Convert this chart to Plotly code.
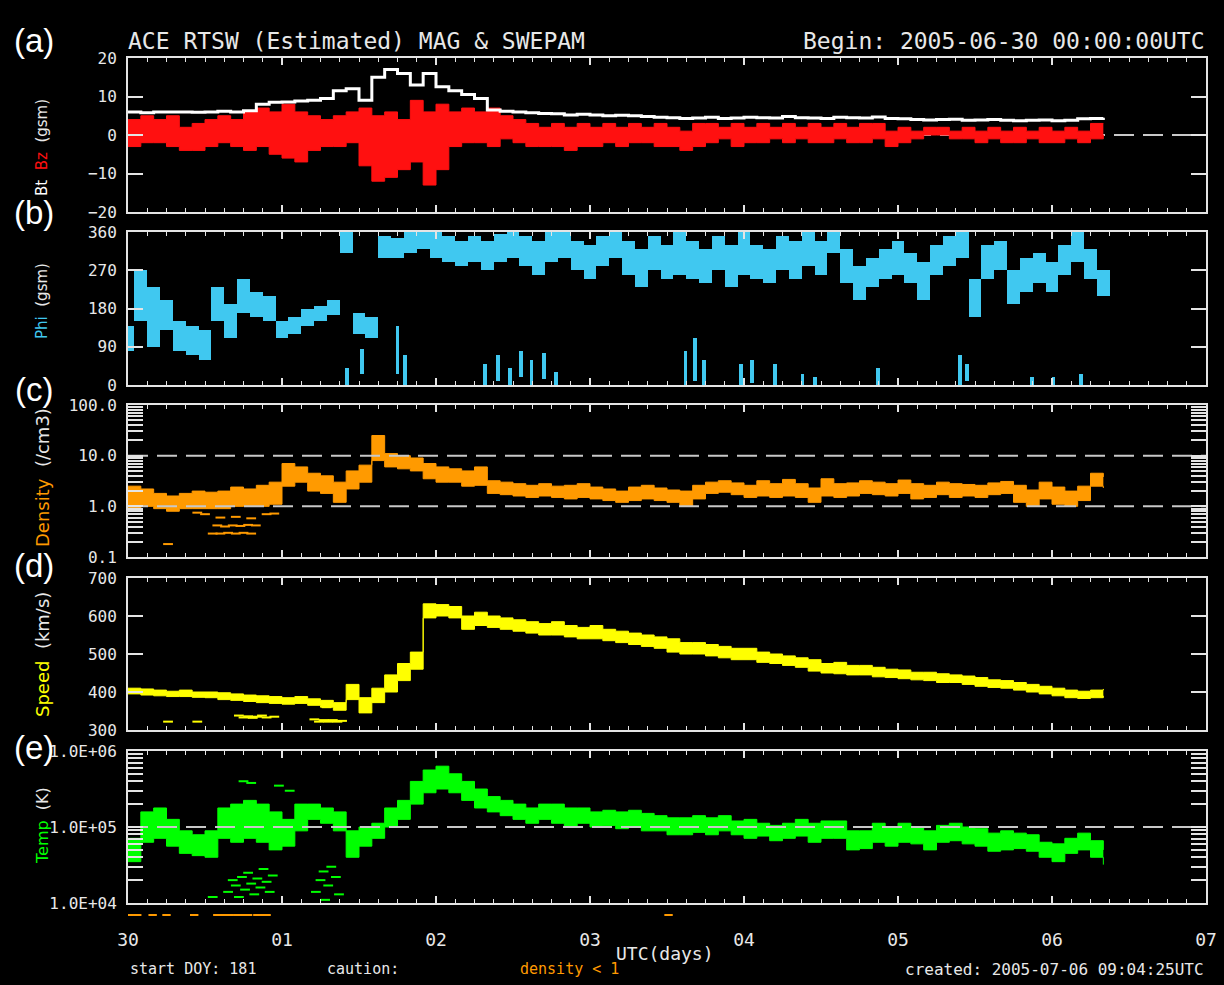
import plotly.graph_objects as go

# ---------------- data (2-hour samples) ----------------
HOURS = [0, 2, 4, 6, 8, 10, 12, 14, 16, 18, 20, 22, 24, 26, 28, 30, 32, 34, 36, 38,
         40, 42, 44, 46, 48, 50, 52, 54, 56, 58, 60, 62, 64, 66, 68, 70, 72, 74, 76, 78,
         80, 82, 84, 86, 88, 90, 92, 94, 96, 98, 100, 102, 104, 106, 108, 110, 112, 114,
         116, 118, 120, 122, 124, 126, 128, 130, 132, 134, 136, 138, 140, 142, 144, 146,
         148, 150, 152]

BT = [6, 5.8, 6, 6, 6, 5.9, 6, 6.2, 6, 6.3, 8, 8.5, 8.6, 8.8, 9, 9.5, 11.5, 12, 9, 15,
      17, 16, 13, 16, 12.5, 11.5, 10.5, 9.5, 6.5, 6.2, 6, 5.8, 5.6, 5.5, 5.2, 5.4, 5.2, 5.0,
      5.1, 5.0, 4.8, 4.6, 4.5, 4.3, 4.4, 4.6, 4.3, 4.4, 4.6, 4.5, 4.4, 4.8, 4.5, 4.4, 4.3,
      4.6, 4.5, 4.4, 4.7, 4.3, 4.2, 4.0, 3.9, 4.0, 4.1, 3.8, 3.9, 4.0, 3.8, 3.7, 3.8, 3.9,
      3.7, 3.8, 4.2, 4.3, 4.5]
BZ_HI = [4, 5, 4, 5, 2, 3, 4, 5, 4, 6, 7, 6, 8, 6, 5, 4, 5, 6, 7, 5, 6, 4, 9, 6, 8, 6, 7,
         6, 7, 5, 4, 3, 2, 3, 2, 3, 2, 3, 2, 3, 2, 3, 2, 1, 3, 3, 2, 3, 2, 3, 2, 3, 2, 3, 2,
         3, 2, 3, 3, 1, 2, 1, 2, 2, 1, 2, 1, 2, 1, 2, 1, 2, 1, 2, 1, 3, 3]
BZ_LO = [-3, -2, -2, -3, -4, -4, -3, -2, -3, -4, -3, -5, -6, -7, -4, -3, -3, -2, -8, -12,
         -11, -9, -7, -13, -9, -3, -2, -2, -3, -1, -2, -3, -3, -3, -4, -3, -3, -2, -3, -2,
         -2, -3, -3, -4, -3, -2, -1, -3, -2, -2, -1, -2, -1, -2, -2, -1, -2, -2, -1, -3, -2,
         -1, 0, 0, -1, -1, -2, -1, -2, -2, -1, -2, -2, -1, -2, -1, 0]

PHI_LO = [80, 150, 90, 130, 80, 70, 60, 150, 110, 170, 160, 150, 110, 120, 140, 150, 165,
          310, 120, 110, 300, 300, 310, 320, 300, 290, 280, 290, 270, 290, 300, 280, 260,
          290, 300, 270, 250, 280, 300, 260, 230, 270, 250, 260, 250, 240, 270, 230, 260,
          250, 240, 270, 250, 280, 260, 310, 240, 200, 230, 250, 260, 240, 200, 260, 280,
          300, 160, 250, 270, 190, 220, 240, 220, 260, 290, 250, 210]
PHI_HI = [140, 270, 230, 200, 150, 140, 130, 230, 190, 250, 220, 210, 150, 160, 180, 185,
          200, 360, 170, 160, 350, 345, 360, 360, 360, 350, 340, 350, 340, 355, 360, 350,
          340, 360, 360, 340, 330, 350, 360, 340, 320, 350, 330, 360, 340, 320, 350, 330,
          360, 330, 320, 350, 340, 360, 340, 360, 320, 280, 300, 320, 340, 310, 290, 330,
          350, 360, 250, 330, 340, 270, 300, 310, 290, 330, 360, 320, 270]
# wrapped (near 0 deg) strokes: day, low, high
PHI2_DAY = [1.42, 1.52, 1.75, 1.80, 2.32, 2.40, 2.48, 2.55, 2.62, 2.70, 2.78, 3.62, 3.68,
            3.74, 3.98, 4.05, 4.20, 4.38, 4.46, 4.87, 5.40, 5.45, 5.87, 6.01, 6.19]
PHI2_LO = [0, 25, 25, 0, 0, 10, 0, 20, 0, 15, 0, 0, 10, 0, 0, 5, 0, 0, 0, 0, 0, 10, 0, 0, 0]
PHI2_HI = [40, 85, 140, 70, 50, 70, 40, 80, 60, 75, 30, 80, 110, 60, 50, 60, 50, 25, 20, 40,
           70, 50, 20, 20, 25]

DENS_LO = [0.9, 1.0, 0.9, 0.8, 0.9, 0.9, 0.9, 0.9, 1.0, 1.0, 1.0, 1.1, 2.5, 3.0, 2.0, 1.8,
           1.2, 2.2, 3.0, 8.0, 6.0, 5.5, 5.0, 3.5, 3.0, 3.0, 2.5, 2.6, 1.8, 1.7, 1.6, 1.5,
           1.6, 1.5, 1.4, 1.5, 1.4, 1.3, 1.2, 1.3, 1.4, 1.3, 1.2, 1.0, 1.4, 1.8, 1.9, 1.7,
           1.5, 1.6, 1.5, 1.6, 1.5, 1.2, 1.6, 1.5, 1.6, 1.8, 1.7, 1.6, 1.8, 1.4, 1.5, 1.7,
           1.5, 1.6, 1.5, 1.7, 1.8, 1.2, 1.0, 1.4, 1.1, 1.0, 1.3, 2.5, 2.3]
DENS_HI = [2.5, 2.2, 1.8, 1.6, 1.8, 2.0, 1.9, 2.0, 2.4, 2.2, 2.6, 3.0, 7.0, 6.0, 4.5, 4.0,
           3.0, 5.0, 6.5, 25, 11, 10, 9.0, 7.0, 6.0, 5.5, 5.0, 6.0, 3.2, 3.0, 2.8, 2.6, 2.8,
           2.5, 2.6, 2.8, 2.4, 2.2, 2.0, 2.4, 2.6, 2.3, 2.1, 2.0, 2.6, 3.0, 3.2, 2.9, 2.6,
           3.2, 2.8, 3.4, 2.8, 2.3, 3.5, 2.8, 2.9, 3.2, 3.0, 2.8, 3.3, 2.8, 2.6, 3.0, 2.8,
           2.7, 2.6, 2.9, 3.1, 2.6, 2.1, 3.0, 2.4, 2.0, 2.5, 4.5, 3.8]
DENS_OUT_DAY = [0.26, 0.55, 0.60, 0.65, 0.70, 0.75, 0.80, 0.58, 0.63, 0.68, 0.73, 0.78,
                0.83, 0.60, 0.70, 0.80, 0.50, 0.45, 0.90, 0.95]
DENS_OUT_VAL = [0.18, 0.29, 0.29, 0.30, 0.29, 0.30, 0.29, 0.42, 0.40, 0.42, 0.41, 0.43,
                0.42, 0.60, 0.62, 0.58, 0.70, 0.75, 0.70, 0.72]

SPEED_LO = [395, 392, 390, 388, 388, 386, 385, 380, 378, 375, 372, 370, 368, 370, 365,
            360, 352, 380, 345, 372, 400, 430, 460, 595, 600, 595, 565, 575, 570, 565,
            560, 555, 550, 550, 545, 540, 540, 535, 530, 525, 520, 515, 505, 500, 500,
            495, 490, 485, 485, 478, 475, 470, 465, 455, 450, 448, 445, 445, 440, 438,
            435, 432, 430, 425, 425, 420, 415, 412, 410, 405, 400, 395, 390, 385, 383,
            385, 390]
SPEED_HI = [410, 408, 405, 402, 405, 400, 400, 398, 395, 392, 390, 388, 385, 388, 382,
            378, 372, 420, 385, 410, 445, 475, 505, 632, 630, 625, 600, 610, 600, 595,
            590, 585, 580, 585, 575, 570, 575, 565, 560, 555, 550, 545, 540, 530, 530,
            525, 520, 515, 515, 505, 500, 495, 490, 485, 475, 478, 470, 470, 465, 460,
            458, 452, 452, 448, 445, 442, 438, 432, 430, 425, 420, 415, 410, 405, 402,
            405, 408]
SPEED_OUT_DAY = [0.26, 0.45, 0.72, 0.75, 0.78, 0.81, 0.84, 0.87, 0.90, 0.95, 1.21, 1.24,
                 1.27, 1.30, 1.33, 1.36, 1.39, 1.29]
SPEED_OUT_VAL = [322, 322, 338, 333, 336, 332, 335, 338, 333, 335, 328, 322, 326, 322,
                 326, 322, 324, 360]

TEMP_LO = [35000, 63000, 71000, 56000, 45000, 42000, 40000, 71000, 63000, 71000, 63000,
           50000, 56000, 89000, 126000, 112000, 89000, 40000, 56000, 71000, 100000,
           126000, 200000, 282000, 316000, 282000, 224000, 178000, 158000, 141000,
           126000, 112000, 126000, 112000, 100000, 112000, 100000, 105000, 95000,
           100000, 89000, 89000, 79000, 79000, 85000, 79000, 89000, 79000, 71000, 76000,
           66000, 71000, 76000, 63000, 71000, 71000, 50000, 52000, 63000, 56000, 63000,
           60000, 50000, 63000, 66000, 60000, 56000, 48000, 50000, 52000, 48000, 40000,
           35000, 45000, 50000, 40000, 32000]
TEMP_HI = [71000, 158000, 178000, 126000, 89000, 79000, 89000, 178000, 200000, 224000,
           200000, 158000, 126000, 200000, 200000, 178000, 158000, 89000, 100000, 112000,
           178000, 224000, 398000, 562000, 631000, 501000, 398000, 316000, 251000,
           224000, 200000, 178000, 200000, 200000, 178000, 178000, 158000, 166000,
           158000, 166000, 151000, 141000, 132000, 132000, 141000, 132000, 141000,
           120000, 126000, 112000, 105000, 112000, 126000, 112000, 120000, 120000, 89000,
           89000, 112000, 100000, 112000, 100000, 89000, 105000, 112000, 100000, 95000,
           83000, 89000, 83000, 79000, 63000, 60000, 71000, 83000, 66000, 50000]
TEMP_OUT_DAY = [0.65, 0.68, 0.70, 0.72, 0.74, 0.76, 0.78, 0.80, 0.82, 0.84, 0.86, 0.88,
                0.90, 0.92, 0.94, 0.55, 1.22, 1.25, 1.27, 1.30, 1.32, 1.35, 1.37, 1.28,
                0.75, 0.80, 0.98, 1.05]
TEMP_OUT_VAL = [14000, 20000, 17000, 12000, 22000, 15000, 25000, 18000, 13000, 21000,
                16000, 28000, 19000, 14000, 23000, 12000, 14000, 20000, 26000, 17000,
                30000, 22000, 13000, 11000, 400000, 380000, 350000, 300000]

CAUTION_DAY = [0.01, 0.06, 0.16, 0.25, 0.43, 0.58, 0.61, 0.66, 0.71, 0.75, 0.78, 0.84,
               0.88, 0.90, 3.51]

DAY_TICKS = [0, 1, 2, 3, 4, 5, 6, 7]
DAY_LABELS = ["30", "01", "02", "03", "04", "05", "06", "07"]

# ---------------- styling ----------------
W, H = 1224, 985
FRAME = "#e4e4e4"
DASH = "#c8c8c8"
TXT = "#e8e8e8"
C_BT, C_BZ, C_PHI = "#ffffff", "#ff1010", "#40c8f0"
C_DEN, C_SPD, C_TMP = "#ff9a00", "#ffff00", "#00ff00"
MONO = "DejaVu Sans Mono"
SANS = "DejaVu Sans"
TICKFONT = dict(family=MONO, size=16, color=TXT)

X0, X1 = 128 / W, 1206 / W
PANELS = [(58, 212), (232, 385), (405, 557), (578, 730), (751, 903)]


def dom(top, bot):
    return [1 - bot / H, 1 - top / H]


days = [h / 24 for h in HOURS]
fig = go.Figure()


def band(lo, hi, color, ax, ay, x=days):
    fig.add_trace(go.Scatter(x=x, y=lo, mode="lines", line=dict(width=1, color=color, shape="hv"),
                             xaxis=ax, yaxis=ay, hoverinfo="skip"))
    fig.add_trace(go.Scatter(x=x, y=hi, mode="lines", line=dict(width=1, color=color, shape="hv"),
                             fill="tonexty", fillcolor=color, xaxis=ax, yaxis=ay, hoverinfo="skip"))


def dashed(yval, ax, ay):
    fig.add_trace(go.Scatter(x=[0, 7], y=[yval, yval], mode="lines",
                             line=dict(color=DASH, width=2, dash="20px,9px"),
                             xaxis=ax, yaxis=ay, hoverinfo="skip"))


def dashes(xs, ys, color, ax, ay, size=7):
    fig.add_trace(go.Scatter(x=xs, y=ys, mode="markers",
                             marker=dict(symbol="line-ew", size=size, line=dict(width=2, color=color)),
                             xaxis=ax, yaxis=ay, hoverinfo="skip"))


# panel a
dashed(0, "x", "y")
band(BZ_LO, BZ_HI, C_BZ, "x", "y")
fig.add_trace(go.Scatter(x=days, y=BT, mode="lines", line=dict(color=C_BT, width=3, shape="hv"),
                         xaxis="x", yaxis="y", hoverinfo="skip"))

# panel b
fig.add_trace(go.Bar(x=days, y=[h - l for l, h in zip(PHI_LO, PHI_HI)], base=PHI_LO,
                     width=2 / 24, marker=dict(color=C_PHI, line=dict(width=0)),
                     xaxis="x2", yaxis="y2", hoverinfo="skip"))
fig.add_trace(go.Bar(x=PHI2_DAY, y=[h - l for l, h in zip(PHI2_LO, PHI2_HI)], base=PHI2_LO,
                     width=0.025, marker=dict(color=C_PHI, line=dict(width=0)),
                     xaxis="x2", yaxis="y2", hoverinfo="skip"))

# panel c
band(DENS_LO, DENS_HI, C_DEN, "x3", "y3")
dashes(DENS_OUT_DAY, DENS_OUT_VAL, C_DEN, "x3", "y3")
dashed(10, "x3", "y3")
dashed(1, "x3", "y3")

# panel d
band(SPEED_LO, SPEED_HI, C_SPD, "x4", "y4")
dashes(SPEED_OUT_DAY, SPEED_OUT_VAL, C_SPD, "x4", "y4")

# panel e
band(TEMP_LO, TEMP_HI, C_TMP, "x5", "y5")
dashes(TEMP_OUT_DAY, TEMP_OUT_VAL, C_TMP, "x5", "y5")
dashed(1e5, "x5", "y5")

# density < 1 caution marks under the time axis (own hidden axes)
dashes(CAUTION_DAY, [0.5] * len(CAUTION_DAY), C_DEN, "x6", "y6", size=6)

# ---------------- axes ----------------
layout = dict(width=W, height=H, margin=dict(l=0, r=0, t=0, b=0, autoexpand=False),
              paper_bgcolor="black", plot_bgcolor="black", showlegend=False,
              barmode="overlay", bargap=0)


def log_ticks(d0, d1):
    vals, txt = [], []
    for d in range(d0, d1):
        for m in range(1, 10):
            vals.append(m * 10 ** d)
            txt.append("")
    vals.append(10 ** d1)
    txt.append("")
    return vals, txt


yspecs = [
    dict(range=[-20, 20], tickvals=[-20, -10, 0, 10, 20], ticktext=["−20", "−10", "0", "10", "20"]),
    dict(range=[0, 360], tickvals=[0, 90, 180, 270, 360], ticktext=["0", "90", "180", "270", "360"]),
    None,
    dict(range=[300, 700], tickvals=[300, 400, 500, 600, 700], ticktext=["300", "400", "500", "600", "700"]),
    None,
]
dv, dt = log_ticks(-1, 2)
for v, lab in [(0.1, "0.1"), (1, "1.0"), (10, "10.0"), (100, "100.0")]:
    for k, tv in enumerate(dv):
        if abs(tv - v) < 1e-9 * max(1, v):
            dt[k] = lab
yspecs[2] = dict(type="log", range=[-1, 2], tickvals=dv, ticktext=dt)
tv5, tt5 = log_ticks(4, 6)
for v, lab in [(1e4, "1.0E+04"), (1e5, "1.0E+05"), (1e6, "1.0E+06")]:
    for k, tv in enumerate(tv5):
        if abs(tv - v) < 1e-6 * v:
            tt5[k] = lab
yspecs[4] = dict(type="log", range=[4, 6], tickvals=tv5, ticktext=tt5)

for i, (top, bot) in enumerate(PANELS):
    n = "" if i == 0 else str(i + 1)
    last = i == 4
    layout["xaxis" + n] = dict(
        domain=[X0, X1], range=[0, 7], anchor="y" + n, showline=True, mirror="allticks",
        linecolor=FRAME, linewidth=2, ticks="inside", ticklen=7, tickwidth=1.5, tickcolor=FRAME,
        tickmode="array", tickvals=DAY_TICKS, ticktext=DAY_LABELS, automargin=False,
        showticklabels=last, showgrid=False, zeroline=False,
        tickfont=dict(family=MONO, size=18, color=TXT), ticklabelstandoff=19,
        minor=dict(ticks="inside", tickmode="linear", tick0=0, dtick=0.125, ticklen=4,
                   tickwidth=1.2, tickcolor=FRAME, showgrid=False),
    )
    spec = dict(yspecs[i])
    layout["yaxis" + n] = dict(
        domain=dom(top, bot), anchor="x" + n, showline=True, mirror="allticks",
        linecolor=FRAME, linewidth=2, ticks="inside", ticklen=15, tickwidth=1.5,
        tickcolor=FRAME, tickmode="array", showgrid=False, zeroline=False, automargin=False,
        tickfont=TICKFONT, ticklabelstandoff=6, **spec)

layout["xaxis6"] = dict(domain=[X0, X1], range=[0, 7], anchor="y6", visible=False,
                        showgrid=False, zeroline=False, automargin=False)
layout["yaxis6"] = dict(domain=[1 - 920 / H, 1 - 910 / H], range=[0, 1], anchor="x6",
                        visible=False, showgrid=False, zeroline=False, automargin=False)

# ---------------- text ----------------
ann = []


def txt(x, y, s, size, color=TXT, xanchor="center", angle=0, family=MONO):
    ann.append(dict(x=x / W, y=1 - y / H, xref="paper", yref="paper", text=s, showarrow=False,
                    xanchor=xanchor, yanchor="middle", textangle=angle,
                    font=dict(family=family, size=size, color=color)))


txt(126, 41, "ACE RTSW (Estimated) MAG &amp; SWEPAM", 23, xanchor="left")
txt(1207, 41, "Begin: 2005-06-30 00:00:00UTC", 23, xanchor="right")
for lab, yy in [("(a)", 40), ("(b)", 213), ("(c)", 389), ("(d)", 565), ("(e)", 747)]:
    txt(34, yy, lab, 33, color="#ffffff", family="Liberation Sans")


def sp(s, c):
    return f'<span style="color:{c}">{s}</span>'


txt(42, 148, sp("Bt", C_BT) + "  " + sp("Bz", C_BZ) + "  (gsm)", 15, angle=-90, family=SANS)
txt(42, 301, sp("Phi", C_PHI) + "  (gsm)", 15, angle=-90, family=SANS)
txt(42, 478, sp("Density", C_DEN) + "  (/cm3)", 18, angle=-90, family=SANS)
txt(42, 655, sp("Speed", C_SPD) + "  (km/s)", 18, angle=-90, family=SANS)
txt(42, 826, sp("Temp", C_TMP) + "  (K)", 16, angle=-90, family=SANS)

txt(665, 953, "UTC(days)", 18)
txt(128, 969, "start DOY: 181", 15, xanchor="left")
txt(325, 969, "caution:", 15, xanchor="left")
txt(518, 969, "density &lt; 1", 15, color=C_DEN, xanchor="left")
txt(1206, 969, "created: 2005-07-06 09:04:25UTC", 16, xanchor="right")
layout["annotations"] = ann

fig.update_layout(**layout)
fig.write_html("out.html")
